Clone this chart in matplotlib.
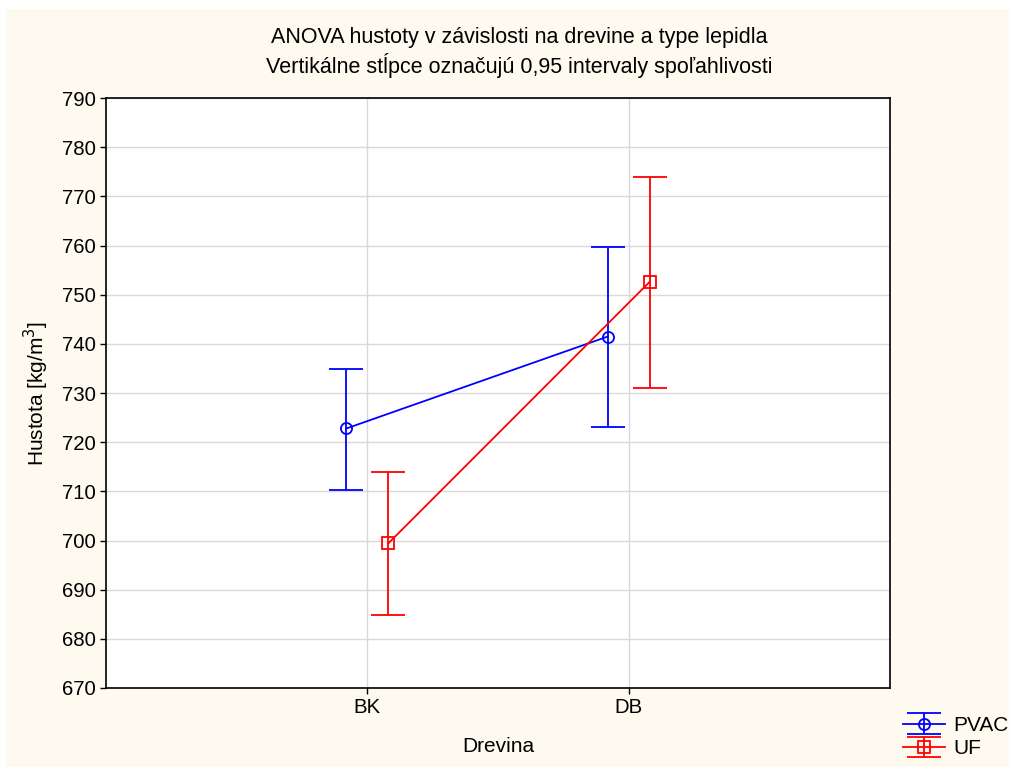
import matplotlib
matplotlib.use("Agg")
import matplotlib.pyplot as plt
import numpy as np

plt.rcParams['font.family'] = ['Liberation Sans', 'DejaVu Sans']

# data
kategorie = ["BK", "DB"]
skupiny = ["PVAC", "UF"]
pvac_mean = [722.8, 741.5]
pvac_low = [710.2, 723.2]
pvac_high = [735.0, 759.7]
uf_mean = [699.4, 752.6]
uf_low = [684.8, 731.0]
uf_high = [714.0, 774.0]
farby = ["#0000ff", "#ff0000"]
markery = ["o", "s"]
posun = [-0.08, 0.08]

fig = plt.figure(figsize=(10.09, 7.67), dpi=100)
fig.patch.set_facecolor("white")
bg = plt.Rectangle((0.006, 0.0), 0.994, 0.988, transform=fig.transFigure,
                   facecolor="#fefaf0", edgecolor="none", zorder=-10)
fig.patches.append(bg)

ax = fig.add_axes([0.105, 0.103, 0.777, 0.769])
ax.set_facecolor("white")

x = np.arange(len(kategorie))
data = [(pvac_mean, pvac_low, pvac_high), (uf_mean, uf_low, uf_high)]
for i, (m, lo, hi) in enumerate(data):
    m = np.array(m)
    yerr = [m - np.array(lo), np.array(hi) - m]
    ax.errorbar(x + posun[i], m, yerr=yerr, color=farby[i], marker=markery[i],
                markersize=8, markerfacecolor="none", markeredgewidth=1.3,
                linewidth=1.3, capsize=12, capthick=1.3, label=skupiny[i], zorder=3)

ax.set_xlim(-1, 2)
ax.set_ylim(670, 790)
ax.set_xticks(x)
ax.set_xticklabels(kategorie)
ax.set_yticks(np.arange(670, 791, 10))
ax.grid(True, color="#d9d9d9", linewidth=1)
ax.set_axisbelow(True)
ax.tick_params(labelsize=14.7, direction="out", length=4, width=1)
for s in ax.spines.values():
    s.set_linewidth(1.2)

ax.set_xlabel("Drevina", fontsize=15, labelpad=14)
ax.set_ylabel("Hustota [kg/m$^3$]", fontsize=15, labelpad=8)
fig.text(0.515, 0.951, "ANOVA hustoty v závislosti na drevine a type lepidla",
         ha="center", va="center", fontsize=15.5)
fig.text(0.515, 0.915, "Vertikálne stĺpce označujú 0,95 intervaly spoľahlivosti",
         ha="center", va="center", fontsize=15.5)

fig.legend(loc="lower right", bbox_to_anchor=(1.012, -0.005), frameon=False,
           fontsize=15, handlelength=2.0, handletextpad=0.4, labelspacing=0.2,
           borderaxespad=0.2)

fig.savefig("out.png", dpi=100, facecolor=fig.get_facecolor())
